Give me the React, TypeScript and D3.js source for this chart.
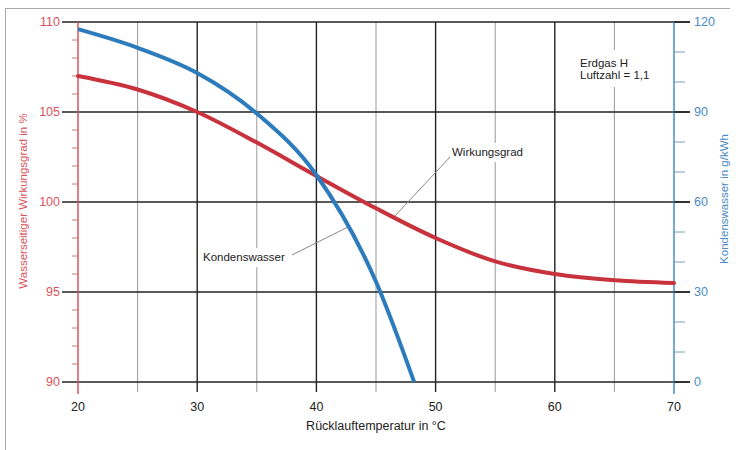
import React from "react";
import * as d3 from "d3";

const tempTicks = [20, 30, 40, 50, 60, 70];
const tempMinor = [25, 35, 45, 55, 65];
const effTicks = [90, 95, 100, 105, 110];
const condTicks = [0, 30, 60, 90, 120];

const effTemp = [20, 25, 30, 35, 40, 45, 50, 55, 60, 65, 70];
const effValues = [107.0, 106.25, 105.0, 103.3, 101.45, 99.65, 98.0, 96.7, 96.0, 95.65, 95.5];

const condTemp = [20, 25, 30, 35, 40, 45, 48.2];
const condValues = [117.6, 111.4, 103.0, 89.5, 69.0, 33.4, 0];

const RED = "#c8323c";
const RED_AXIS = "#d9535c";
const BLUE = "#2b7bbd";
const BLUE_AXIS = "#4a8bc4";
const FONT = "Liberation Sans, Arial, sans-serif";

export default function App() {
  const x = d3.scaleLinear().domain([20, 70]).range([78, 674]);
  const yL = d3.scaleLinear().domain([90, 110]).range([382, 22]);
  const yR = d3.scaleLinear().domain([0, 120]).range([382, 22]);

  const effLine = d3
    .line<number>()
    .x((_, i) => x(effTemp[i]))
    .y((d) => yL(d))
    .curve(d3.curveMonotoneX);
  const condLine = d3
    .line<number>()
    .x((_, i) => x(condTemp[i]))
    .y((d) => yR(d))
    .curve(d3.curveMonotoneX);

  const leftMinor = d3.range(90, 110.01, 1).filter((v) => v % 5 !== 0);
  const rightMinor = d3.range(0, 120.01, 10).filter((v) => v % 30 !== 0);

  const xl = x(20);
  const xr = x(70);

  return (
    <svg
      width={736}
      height={450}
      style={{ position: "absolute", left: 0, top: 0, background: "#fff" }}
      fontFamily={FONT}
    >
      <rect x={0} y={0} width={736} height={450} fill="#fff" />
      {/* frame */}
      <line x1={5} y1={8.5} x2={730} y2={8.5} stroke="#aaa" strokeWidth={1} />
      <line x1={5.5} y1={8} x2={5.5} y2={450} stroke="#aaa" strokeWidth={1} />

      {/* minor vertical grid */}
      {tempMinor.map((t) => (
        <line key={"vm" + t} x1={x(t)} x2={x(t)} y1={yL(110)} y2={392} stroke="#999" strokeWidth={1} />
      ))}
      {/* major vertical grid */}
      {tempTicks.slice(1, -1).map((t) => (
        <line key={"vM" + t} x1={x(t)} x2={x(t)} y1={yL(110)} y2={392} stroke="#222" strokeWidth={1.4} />
      ))}
      {/* horizontal grid */}
      {effTicks.map((v) => (
        <line key={"h" + v} x1={62} x2={690} y1={yL(v)} y2={yL(v)} stroke="#222" strokeWidth={1.4} />
      ))}

      {/* left axis */}
      <line x1={xl} x2={xl} y1={yL(110)} y2={394} stroke={RED_AXIS} strokeWidth={1.5} />
      {leftMinor.map((v) => (
        <line key={"lm" + v} x1={72} x2={xl} y1={yL(v)} y2={yL(v)} stroke="#c77" strokeWidth={1} />
      ))}
      {effTicks.map((v) => (
        <text key={"lt" + v} x={60} y={yL(v)} dy="0.35em" textAnchor="end" fontSize={12.5} fill={RED_AXIS}>
          {v}
        </text>
      ))}
      <text
        transform={`translate(27,${(yL(110) + yL(90)) / 2 - 1}) rotate(-90)`}
        textAnchor="middle"
        fontSize={11.5}
        fill={RED_AXIS}
      >
        Wasserseitiger Wirkungsgrad in %
      </text>

      {/* right axis */}
      <line x1={xr} x2={xr} y1={yR(120)} y2={394} stroke={BLUE_AXIS} strokeWidth={1.5} />
      {rightMinor.map((v) => (
        <line key={"rm" + v} x1={xr} x2={685} y1={yR(v)} y2={yR(v)} stroke="#7a9cc0" strokeWidth={1} />
      ))}
      {condTicks.map((v) => (
        <line key={"rM" + v} x1={xr} x2={690} y1={yR(v)} y2={yR(v)} stroke="#222" strokeWidth={1.4} />
      ))}
      {condTicks.map((v) => (
        <text key={"rt" + v} x={694} y={yR(v)} dy="0.35em" textAnchor="start" fontSize={12.5} fill={BLUE_AXIS}>
          {v}
        </text>
      ))}
      <text
        transform={`translate(728,${(yR(120) + yR(0)) / 2 - 3}) rotate(-90)`}
        textAnchor="middle"
        fontSize={11.5}
        fill={BLUE_AXIS}
      >
        Kondenswasser in g/kWh
      </text>

      {/* x axis labels */}
      {tempTicks.map((t) => (
        <text key={"xt" + t} x={x(t)} y={407} dy="0.35em" textAnchor="middle" fontSize={12.5} fill="#222">
          {t}
        </text>
      ))}
      <text x={(xl + xr) / 2} y={426} dy="0.35em" textAnchor="middle" fontSize={12.5} fill="#222">
        Rücklauftemperatur in °C
      </text>

      {/* annotation backgrounds */}
      <rect x={574} y={50} width={82} height={37} fill="#fff" />
      <rect x={448} y={143} width={84} height={19} fill="#fff" />
      <rect x={200} y={248} width={94} height={19} fill="#fff" />

      {/* leader lines */}
      <line x1={450} y1={157} x2={393} y2={218} stroke="#888" strokeWidth={1} />
      <line x1={292} y1={255} x2={350} y2={226} stroke="#888" strokeWidth={1} />

      {/* curves */}
      <path d={effLine(effValues) || ""} fill="none" stroke={RED} strokeWidth={4} strokeLinecap="round" />
      <path d={condLine(condValues) || ""} fill="none" stroke={BLUE} strokeWidth={4} />

      {/* annotation texts */}
      <text x={580} y={66.5} fontSize={11.5} fill="#222">Erdgas H</text>
      <text x={580} y={78.5} fontSize={11.5} fill="#222">Luftzahl = 1,1</text>
      <text x={452} y={156} fontSize={11.5} fill="#222">Wirkungsgrad</text>
      <text x={203} y={261} fontSize={11.5} fill="#222">Kondenswasser</text>
    </svg>
  );
}
